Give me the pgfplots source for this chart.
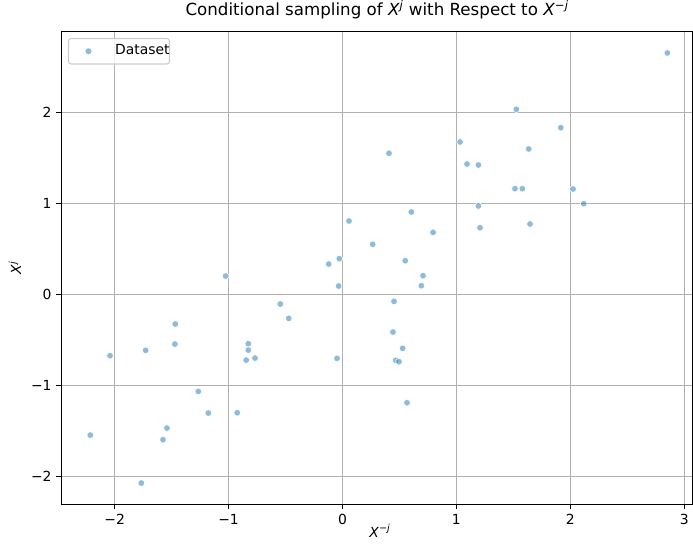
\documentclass[border=0pt]{standalone}
\usepackage{fontspec}
\setmainfont{DejaVu Sans}
\usepackage{pgfplots}
\pgfplotsset{compat=1.18}
\definecolor{tabblue}{HTML}{1F77B4}
\definecolor{gridgray}{HTML}{B0B0B0}
\definecolor{legedge}{HTML}{CCCCCC}
\definecolor{dotblue}{HTML}{8FBBD9}

\pgfplotstableread{
x y
2.852 2.656
1.526 2.037
1.916 1.835
1.032 1.678
1.635 1.601
0.408 1.554
1.093 1.436
1.193 1.425
1.514 1.165
1.579 1.165
2.024 1.161
2.118 1.000
1.193 0.975
0.604 0.909
1.646 0.777
1.207 0.736
0.795 0.685
0.265 0.554
0.551 0.374
0.057 0.810
-0.028 0.396
-0.121 0.337
-1.026 0.205
-0.034 0.096
-0.546 -0.102
-0.472 -0.260
-1.468 -0.322
-1.471 -0.542
-0.827 -0.538
-0.827 -0.608
-1.728 -0.611
-2.041 -0.670
-0.768 -0.696
-0.845 -0.718
-0.048 -0.699
-1.266 -1.062
-1.178 -1.300
-0.924 -1.296
-1.541 -1.465
-1.576 -1.593
-2.214 -1.542
-1.766 -2.069
0.707 0.209
0.692 0.099
0.452 -0.073
0.443 -0.410
0.528 -0.589
0.467 -0.721
0.496 -0.736
0.566 -1.187
}\datatable

\begin{document}
\fontsize{10bp}{12bp}\selectfont
\begin{tikzpicture}
\begin{axis}[
  scale only axis, width=454.8bp, height=340.3bp,
  xmin=-2.469, xmax=3.077, ymin=-2.303, ymax=2.89,
  axis line style={line width=0.8bp},
  xtick={-2,-1,0,1,2,3}, xticklabels={−2,−1,0,1,2,3},
  ytick={-2,-1,0,1,2}, yticklabels={−2,−1,0,1,2},
  tick align=outside, xtick pos=bottom, ytick pos=left,
  major tick length=3.5bp,
  tick style={line width=0.8bp, black},
  tick label style={font=\fontsize{10bp}{12bp}\selectfont},
  grid=major, major grid style={gridgray, line width=0.8bp},
  title={Conditional sampling of \textit{X}\textsuperscript{\textit{j}} with Respect to \textit{X}\textsuperscript{−\textit{j}}},
  title style={font=\fontsize{12bp}{14bp}\selectfont, at={(0.5,1)}, anchor=base, yshift=5.5bp},
  xlabel={\textit{X}\textsuperscript{−\textit{j}}},
  ylabel={\textit{X}\textsuperscript{\textit{j}}},
  xlabel style={at={(0.5,0)}, anchor=base, yshift=-23.5bp, xshift=2bp, font=\fontsize{10bp}{12bp}\selectfont},
  ylabel style={at={(-0.0732,0.5)}, anchor=center, font=\fontsize{10bp}{12bp}\selectfont},
  legend style={at={(0,1)}, anchor=north west, xshift=4.8bp, yshift=-4.5bp,
    draw=legedge, line width=0.8bp, rounded corners=2bp, fill=white, fill opacity=0.8, text opacity=1,
    font=\fontsize{10bp}{12bp}\selectfont, inner xsep=0pt, inner ysep=4.3bp,
    nodes={inner sep=0pt, text height=7.5bp, text depth=2.3bp}, column sep=0pt},
  legend cell align=left,
]
\addplot[only marks, mark=*, mark size=2.4bp, forget plot,
  mark options={fill=tabblue, fill opacity=0.5, draw=white, draw opacity=1, line width=0.4bp}]
  table[x=x,y=y] {\datatable};
\addlegendimage{legend image code/.code={%
    \path[draw=none, fill=none] (0bp,0bp) -- (33.6bp,0bp);
    \path[draw=none, fill=dotblue, fill opacity=1] (14.4bp,0bp) circle (2.2bp);}}
\addlegendentry{Dataset\hspace{4.3bp}}
\end{axis}
\pgfresetboundingbox
\useasboundingbox ([shift={(-44.1bp,-29.3bp)}]current axis.south west) rectangle ([shift={(0bp,22.8bp)}]current axis.north east);
\end{tikzpicture}
\end{document}
